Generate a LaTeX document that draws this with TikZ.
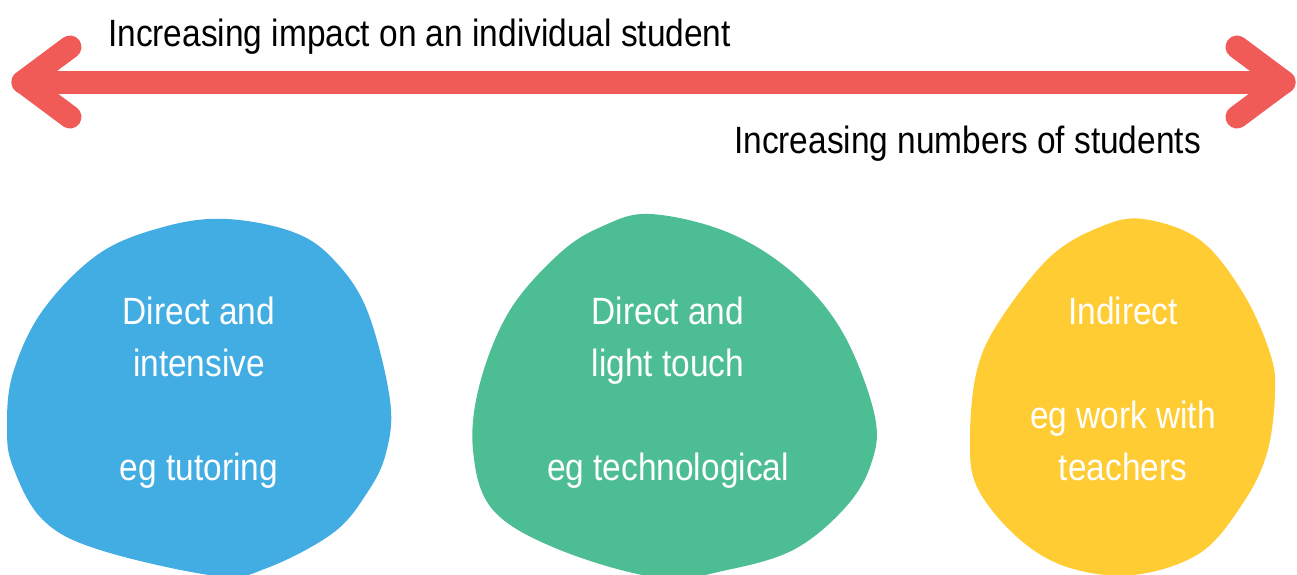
\documentclass[tikz,border=0pt]{standalone}
\usepackage{fontspec}
\setmainfont[FakeStretch=0.88]{Liberation Sans}
\definecolor{arrowred}{HTML}{F05A57}
\definecolor{blobblue}{HTML}{42ADE2}
\definecolor{blobgreen}{HTML}{4DBD94}
\definecolor{blobyellow}{HTML}{FFCC33}
\begin{document}
\begin{tikzpicture}[x=1pt,y=-1pt]
    \tikzstyle{barb}=[draw=arrowred, line width=23pt, line cap=round, line join=round]
    \tikzstyle{caption}=[inner sep=0pt, font=\fontsize{38}{52}\selectfont]
    \tikzstyle{blobtext}=[inner sep=0pt, text=white, align=center, font=\fontsize{38}{52}\selectfont]
    \fill[white] (0,0) rectangle (1297,574);
    \clip (0,0) rectangle (1297,574);
    % double headed arrow
    \coordinate (lt) at (23,82);
    \coordinate (rt) at (1284,82);
    \coordinate (lu) at (70,47);
    \coordinate (ld) at (70,117);
    \coordinate (ru) at (1237,47);
    \coordinate (rd) at (1237,117);
    \draw[barb] (lt) -- (rt);
    \draw[barb] (lu) -- (lt) -- (ld);
    \draw[barb] (ru) -- (rt) -- (rd);
    \node[caption, anchor=base west] (impact) at (108,46) {Increasing impact on an individual student};
    \node[caption, anchor=base east] (numbers) at (1201,153) {Increasing numbers of students};
    % blobs
    \fill[blobblue] plot[smooth cycle, tension=0.6] coordinates {(227,219) (293,232) (333,259) (367,310) (390,400) (386,453) (367,493) (333,533) (267,568) (217,576) (100,550) (43,520) (13,467) (7,427) (13,373) (43,310) (100,253) (167,226)};
    \fill[blobgreen] plot[smooth cycle, tension=0.6] coordinates {(650,214) (727,232) (793,273) (843,333) (875,417) (870,467) (843,510) (793,550) (727,570) (660,578) (560,550) (493,510) (473,450) (480,383) (510,310) (560,253) (603,226)};
    \fill[blobyellow] plot[smooth cycle, tension=0.6] coordinates {(1143,219) (1200,240) (1243,293) (1270,353) (1275,393) (1267,453) (1243,503) (1200,553) (1133,575) (1067,567) (1017,537) (977,487) (970,437) (977,370) (1000,320) (1050,257) (1100,227)};
    % last line of each text sits on y=480
    \node[blobtext, anchor=base] (intensive) at (199,480) {Direct and\\intensive\\[52pt]eg tutoring};
    \node[blobtext, anchor=base] (light) at (668,480) {Direct and\\light touch\\[52pt]eg technological};
    \node[blobtext, anchor=base] (indirect) at (1123,480) {Indirect\\[52pt]eg work with\\teachers};
\end{tikzpicture}
\end{document}
